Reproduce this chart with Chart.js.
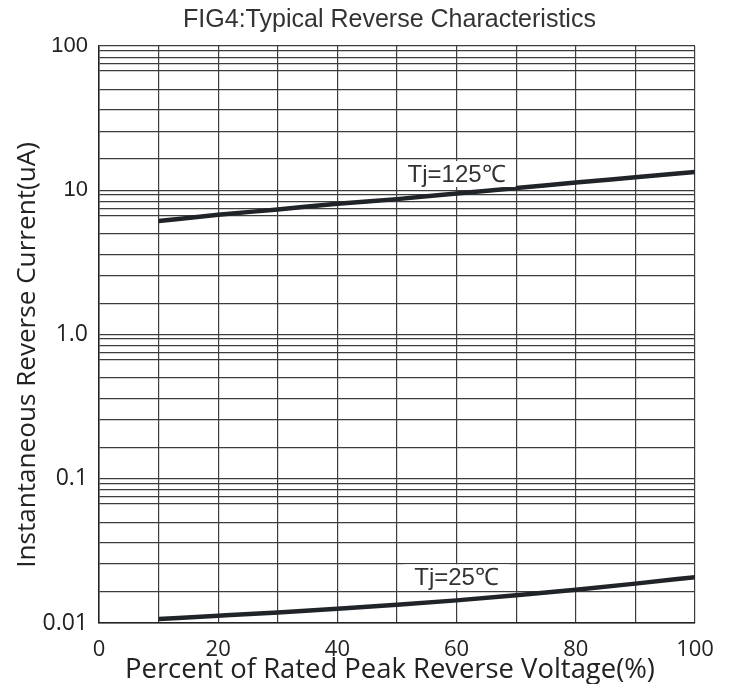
<!DOCTYPE html>
<html>
<head>
<meta charset="utf-8">
<script src="https://cdn.jsdelivr.net/npm/chart.js@4/dist/chart.umd.min.js"></script>
<style>
  html, body { margin: 0; padding: 0; background: #fff; }
  #wrap { width: 738px; height: 684px; position: relative; }
</style>
</head>
<body>
<div id="wrap"><canvas id="fig4"></canvas></div>
<script>
// ── 資料 ──
const xPercent   = [10, 20, 30, 40, 50, 60, 70, 80, 90, 100];
const tj125      = [6.12, 6.76, 7.36, 8.05, 8.68, 9.5, 10.35, 11.3, 12.3, 13.4];
const tj25       = [0.01066, 0.01122, 0.01183, 0.01253, 0.01337, 0.01435, 0.01556, 0.01702, 0.01875, 0.0208];
const yDecades   = [0.01, 0.1, 1, 10, 100];
const yDecadeTxt = ['0.01', '0.1', '1.0', '10', '100'];
const yMinor     = [1.65, 2.57, 3.6, 5, 6.7, 7.5, 8.35, 9.3];   // 圖上格線位置（非標準對數）
const xTicks     = [0, 10, 20, 30, 40, 50, 60, 70, 80, 90, 100];
const seriesLbl  = ['Tj=125℃', 'Tj=25℃'];
const labelAt    = [[60, 11.4], [60, 0.01826]];

const TITLE  = 'FIG4:Typical Reverse Characteristics';
const XTITLE = 'Percent of Rated Peak Reverse Voltage(%)';
const YTITLE = 'Instantaneous Reverse Current(uA)';

const C = {
  text: '#222',
  grid: '#3c3c3c',
  line: '#202428',
  sans: '"Liberation Sans", Arial, sans-serif',
  open: '"Open Sans", "Noto Sans", sans-serif',
};

// y 格線值
const yGrid = [];
yDecades.forEach((d, i) => {
  yGrid.push(d);
  if (i < yDecades.length - 1) yMinor.forEach(m => yGrid.push(+(d * m).toPrecision(4)));
});

// 字寬擬合
function fitFont(ctx, text, family, width) {
  ctx.font = `100px ${family}`;
  const w = ctx.measureText(text).width;
  return 100 * width / w;
}

const textPlugin = {
  id: 'texts',
  afterDraw(chart) {
    const { ctx, scales } = chart;
    ctx.save();
    ctx.fillStyle = '#333';
    ctx.textAlign = 'center';
    ctx.textBaseline = 'alphabetic';

    let s = fitFont(ctx, TITLE, C.sans, 413);
    ctx.font = `${s}px ${C.sans}`;
    ctx.fillText(TITLE, 389.5, 27);

    ctx.fillStyle = C.text;
    s = fitFont(ctx, XTITLE, C.open, 530);
    ctx.font = `${s}px ${C.open}`;
    ctx.fillText(XTITLE, 390, 678);

    s = fitFont(ctx, YTITLE, C.open, 426);
    ctx.font = `${s}px ${C.open}`;
    ctx.translate(35, 355);
    ctx.rotate(-Math.PI / 2);
    ctx.fillText(YTITLE, 0, 0);
    ctx.setTransform(1, 0, 0, 1, 0, 0);

    // 曲線標籤（白底）
    ctx.font = `24px ${C.sans}`;
    seriesLbl.forEach((t, i) => {
      const px = scales.x.getPixelForValue(labelAt[i][0]);
      const py = scales.y.getPixelForValue(labelAt[i][1]);
      const w = ctx.measureText(t).width;
      ctx.fillStyle = '#fff';
      ctx.fillRect(px - w / 2 - 10, py - 21, w + 20, 26);
      ctx.fillStyle = '#333';
      ctx.fillText(t, px, py);
    });
    ctx.restore();
  },
};

new Chart(document.getElementById('fig4'), {
  type: 'line',
  data: {
    labels: xPercent,
    datasets: [
      { label: seriesLbl[0], data: xPercent.map((x, i) => ({ x, y: tj125[i] })) },
      { label: seriesLbl[1], data: xPercent.map((x, i) => ({ x, y: tj25[i] })) },
    ],
  },
  options: {
    responsive: true,
    maintainAspectRatio: false,
    animation: false,
    layout: { padding: { left: 0, top: 46, right: 43, bottom: 0 } },
    elements: {
      line: { borderColor: C.line, borderWidth: 4.5, cubicInterpolationMode: 'monotone', fill: false },
      point: { radius: 0, hoverRadius: 0 },
    },
    plugins: { legend: { display: false }, tooltip: { enabled: false }, title: { display: false } },
    scales: {
      x: {
        type: 'linear',
        min: 0, max: 100,
        afterFit: s => { s.height = 61; },
        afterBuildTicks: s => { s.ticks = xTicks.map(v => ({ value: v })); },
        grid: { color: C.grid, lineWidth: 1.2, drawTicks: false },
        border: { color: '#222', width: 1.5 },
        ticks: {
          autoSkip: false, maxRotation: 0, padding: 14,
          color: C.text,
          font: { family: C.open, size: 22 },
          callback: v => (v % 20 === 0 ? String(v) : ''),
        },
      },
      y: {
        type: 'logarithmic',
        min: 0.01, max: 100,
        afterFit: s => { s.width = 99; },
        afterBuildTicks: s => { s.ticks = yGrid.map(v => ({ value: v })); },
        grid: { color: C.grid, lineWidth: 1.2, drawTicks: false },
        border: { color: '#222', width: 1.5 },
        ticks: {
          autoSkip: false, padding: 11,
          color: C.text,
          font: ctx => (ctx.tick && ctx.tick.value >= 10
            ? { family: C.sans, size: 22 }
            : { family: C.open, size: 23 }),
          callback: v => {
            const i = yDecades.indexOf(v);
            return i >= 0 ? yDecadeTxt[i] : '';
          },
        },
      },
    },
  },
  plugins: [textPlugin],
});
</script>
</body>
</html>
